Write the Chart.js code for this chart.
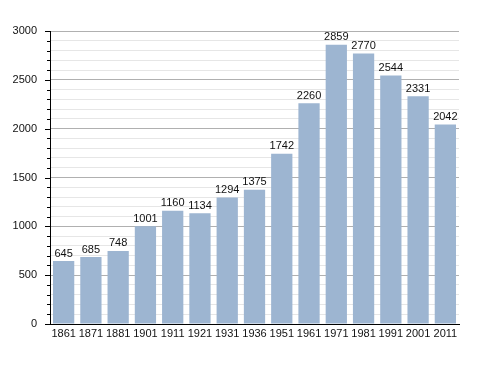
<!DOCTYPE html>
<html>
<head>
<meta charset="utf-8">
<script src="https://cdn.jsdelivr.net/npm/chart.js@4.4.0/dist/chart.umd.min.js"></script>
<style>
  html, body { margin: 0; padding: 0; background: #fff; }
  #wrap { width: 488px; height: 373px; }
</style>
</head>
<body>
<div id="wrap"><canvas id="pop-chart" width="488" height="373"></canvas></div>
<script>
  'use strict';

  const years = ['1861', '1871', '1881', '1901', '1911', '1921', '1931', '1936', '1951', '1961', '1971', '1981', '1991', '2001', '2011'];
  const population = [645, 685, 748, 1001, 1160, 1134, 1294, 1375, 1742, 2260, 2859, 2770, 2544, 2331, 2042];
  const yTicks = [0, 500, 1000, 1500, 2000, 2500, 3000];

  const fontFamily = '"Liberation Sans", Arial, sans-serif';

  // value labels above each bar + tick marks on the y axis
  const extras = {
    id: 'extras',
    afterDatasetsDraw(chart) {
      const ctx = chart.ctx;
      const meta = chart.getDatasetMeta(0);
      ctx.save();
      ctx.font = '11px ' + fontFamily;
      ctx.fillStyle = '#111';
      ctx.textAlign = 'center';
      ctx.textBaseline = 'bottom';
      meta.data.forEach(function (bar, i) {
        ctx.fillText(String(population[i]), bar.x, bar.y - 2);
      });

      const y = chart.scales.y;
      const x0 = chart.chartArea.left;
      ctx.strokeStyle = '#000';
      ctx.lineWidth = 1;
      y.ticks.forEach(function (t) {
        const py = Math.round(y.getPixelForValue(t.value)) + 0.5;
        const len = (t.value % 500 === 0) ? 5 : 3;
        ctx.beginPath();
        ctx.moveTo(x0 - len, py);
        ctx.lineTo(x0, py);
        ctx.stroke();
      });
      ctx.restore();
    }
  };

  new Chart(document.getElementById('pop-chart'), {
    type: 'bar',
    data: {
      labels: years,
      datasets: [{
        data: population,
        backgroundColor: '#9db5d1',
        borderWidth: 0,
        barPercentage: 0.78,
        categoryPercentage: 1.0
      }]
    },
    options: {
      responsive: false,
      animation: false,
      layout: {
        padding: { left: 0, right: 29, top: 31, bottom: 29 }
      },
      plugins: {
        legend: { display: false },
        tooltip: { enabled: false }
      },
      scales: {
        x: {
          grid: { display: false, drawTicks: false },
          border: { display: true, color: '#000', width: 1 },
          ticks: {
            color: '#111',
            font: { family: fontFamily, size: 11 },
            padding: 3,
            maxRotation: 0,
            autoSkip: false
          },
          afterFit: function (scale) { scale.height = 20; }
        },
        y: {
          min: 0,
          max: 3000,
          grid: {
            drawTicks: false,
            color: function (c) {
              if (c.tick.value === 0) return 'rgba(0,0,0,0)';
              return (c.tick.value % 500 === 0) ? '#b0b0b0' : '#e6e6e6';
            },
            lineWidth: 1
          },
          border: { display: true, color: '#000', width: 1 },
          ticks: {
            stepSize: 100,
            autoSkip: false,
            color: '#111',
            font: { family: fontFamily, size: 11 },
            padding: 13,
            callback: function (v) {
              return yTicks.indexOf(v) >= 0 ? String(v) : '';
            }
          },
          afterFit: function (scale) { scale.width = 50; }
        }
      }
    },
    plugins: [extras]
  });
</script>
</body>
</html>
